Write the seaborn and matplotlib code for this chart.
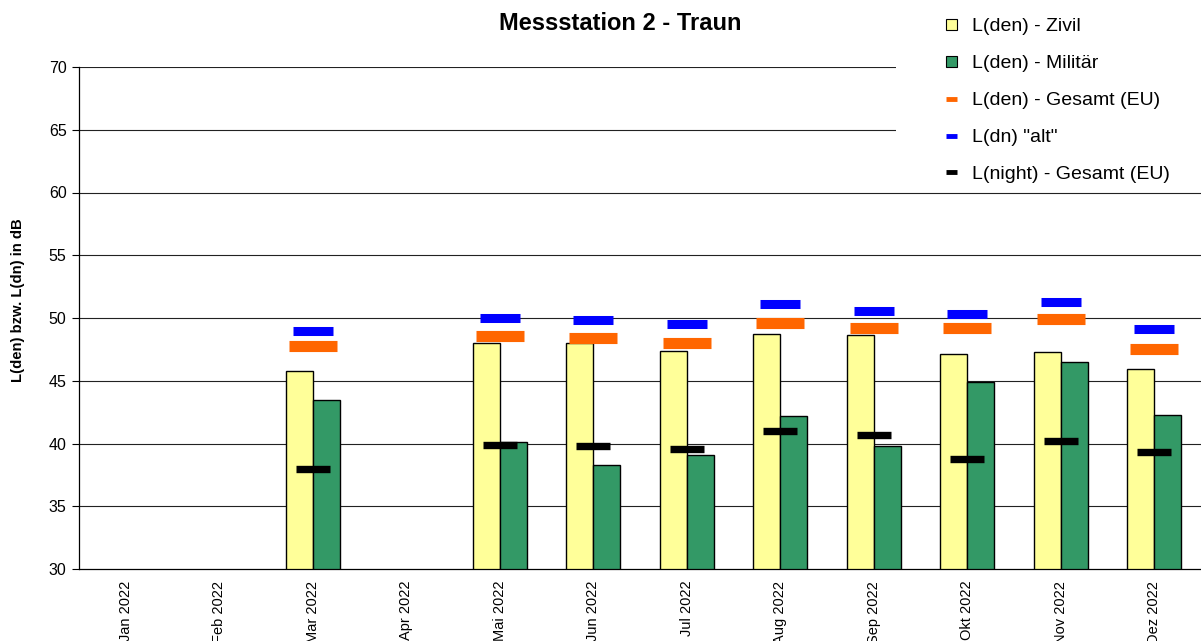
import numpy as np
import pandas as pd
import seaborn as sns
import matplotlib.pyplot as plt
from matplotlib.patches import Patch, Rectangle
from matplotlib.lines import Line2D

# Daten
monate = ["Jan 2022", "Feb 2022", "Mar 2022", "Apr 2022", "Mai 2022", "Jun 2022",
          "Jul 2022", "Aug 2022", "Sep 2022", "Okt 2022", "Nov 2022", "Dez 2022"]
lden_zivil = [np.nan, np.nan, 45.8, np.nan, 48.0, 48.0, 47.4, 48.7, 48.65, 47.1, 47.3, 45.95]
lden_militaer = [np.nan, np.nan, 43.45, np.nan, 40.1, 38.3, 39.1, 42.2, 39.8, 44.9, 46.5, 42.3]
lden_gesamt = [np.nan, np.nan, 47.8, np.nan, 48.6, 48.4, 48.0, 49.6, 49.2, 49.2, 49.95, 47.5]
ldn_alt = [np.nan, np.nan, 49.0, np.nan, 50.0, 49.85, 49.5, 51.15, 50.55, 50.3, 51.3, 49.1]
lnight_gesamt = [np.nan, np.nan, 38.0, np.nan, 39.9, 39.8, 39.6, 41.0, 40.65, 38.8, 40.2, 39.3]

serie_zivil = "L(den) - Zivil"
serie_militaer = "L(den) - Militär"

sns.set_style("white")
plt.rcParams['font.family'] = ['Liberation Sans', 'DejaVu Sans']
for key in ["text.color", "axes.labelcolor", "xtick.color", "ytick.color"]:
    plt.rcParams[key] = "black"

df = pd.DataFrame({
    "Monat": monate * 2,
    "Wert": lden_zivil + lden_militaer,
    "Serie": [serie_zivil] * len(monate) + [serie_militaer] * len(monate),
})

farben = {serie_zivil: "#FFFF99", serie_militaer: "#339966"}

fig = plt.figure(figsize=(12.01, 6.41), dpi=100)
ax = fig.add_axes([79 / 1201, 1 - 569 / 641, 1 - 79 / 1201, (569 - 67) / 641])

# Gitterlinien
for y in range(35, 71, 5):
    ax.axhline(y, color="#222222", linewidth=0.8, zorder=0)

sns.barplot(data=df, x="Monat", y="Wert", hue="Serie", palette=farben,
            width=0.58, saturation=1, edgecolor="black", linewidth=1.0, legend=False,
            errorbar=None, ax=ax, zorder=2)

# Markierungen (Gesamt, alt, Nacht)
x = np.arange(len(monate))
ax.hlines(lden_gesamt, x - 0.257, x + 0.257, color="#FF6600", linewidth=8.0, zorder=3)
ax.hlines(ldn_alt, x - 0.214, x + 0.214, color="#0000FF", linewidth=6.5, zorder=3)
ax.hlines(lnight_gesamt, x - 0.182, x + 0.182, color="black", linewidth=5.3, zorder=4)

ax.set_ylim(30, 70)
ax.set_xlim(-0.5, len(monate) - 0.5)
ax.set_yticks(range(30, 71, 5))
ax.set_xlabel("")
ax.set_ylabel("")
ax.set_xticks(x)
ax.set_xticklabels(monate, rotation=90, fontsize=10.5)
ax.set_xticks(np.arange(-0.5, len(monate)), minor=True)
ax.tick_params(axis="x", which="major", length=0, pad=8.5)
ax.tick_params(axis="x", which="minor", length=5, width=0.8, color="#555555", direction="out")
ax.tick_params(axis="y", length=5, width=0.8, direction="out", labelsize=11.5, pad=4, left=True)

for s in ["top", "right"]:
    ax.spines[s].set_visible(False)
ax.spines["left"].set_color("black")
ax.spines["bottom"].set_color("black")
ax.spines["left"].set_linewidth(0.9)
ax.spines["bottom"].set_linewidth(0.9)

fig.text(620 / 1201, 1 - 24 / 641, "Messstation 2 - Traun", ha="center", va="center",
         fontsize=17, fontweight="bold")
fig.text(18 / 1201, 1 - 300 / 641, "L(den) bzw. L(dn) in dB", rotation=90,
         ha="center", va="center", fontsize=10.7, fontweight="bold")

# weisser Hintergrund der Legende (verdeckt die Gitterlinien)
fig.patches.append(Rectangle((896 / 1201, 1 - 188 / 641), 305 / 1201, 188 / 641,
                             transform=fig.transFigure, facecolor="white",
                             edgecolor="none", zorder=5))

handles = [
    Patch(facecolor="#FFFF99", edgecolor="black", linewidth=0.8),
    Patch(facecolor="#339966", edgecolor="black", linewidth=0.8),
    Line2D([], [], color="#FF6600", linewidth=3.5, solid_capstyle="butt"),
    Line2D([], [], color="#0000FF", linewidth=3.5, solid_capstyle="butt"),
    Line2D([], [], color="black", linewidth=3.5, solid_capstyle="butt"),
]
labels = [serie_zivil, serie_militaer, "L(den) - Gesamt (EU)", 'L(dn) "alt"',
          "L(night) - Gesamt (EU)"]
leg = fig.legend(handles, labels, loc="upper left",
                 bbox_to_anchor=(938 / 1201, 1 - 10.5 / 641),
                 fontsize=14, frameon=False, labelspacing=1.02, handlelength=0.57,
                 handleheight=0.5, handletextpad=0.77, borderpad=0.4, borderaxespad=0)
leg.set_zorder(10)

fig.savefig("out.png", dpi=100)
